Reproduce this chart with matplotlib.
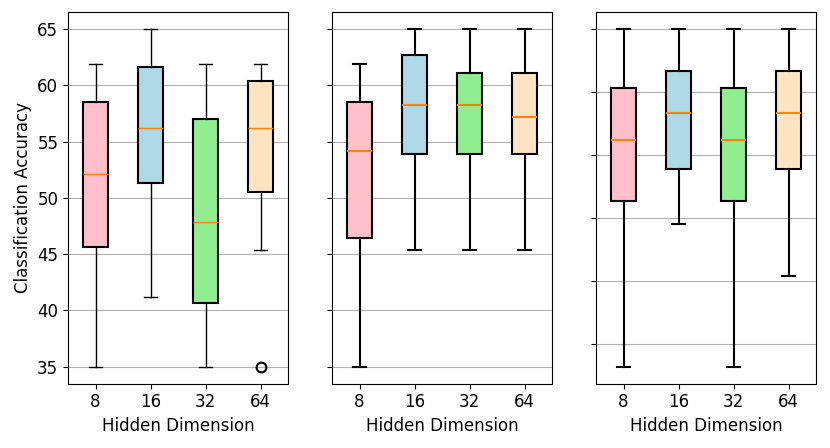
import matplotlib
matplotlib.use("Agg")
import matplotlib.pyplot as plt

# hidden dimensions on the x axis
hidden_dims = ['8', '16', '32', '64']
box_colors = ['pink', 'lightblue', 'lightgreen', 'bisque']

# box statistics, one list per panel
# panel 1
p1_whislo = [35.0, 41.2, 35.0, 45.4]
p1_q1 = [45.6, 51.3, 40.7, 50.5]
p1_med = [52.1, 56.2, 47.9, 56.2]
p1_q3 = [58.5, 61.6, 57.0, 60.35]
p1_whishi = [61.9, 65.0, 61.9, 61.9]
p1_fliers = [[], [], [], [35.0]]

# panel 2
p2_whislo = [35.0, 45.4, 45.4, 45.4]
p2_q1 = [46.4, 53.9, 53.9, 53.9]
p2_med = [54.15, 58.25, 58.25, 57.2]
p2_q3 = [58.5, 62.65, 61.1, 61.1]
p2_whishi = [61.9, 65.0, 65.0, 65.0]
p2_fliers = [[], [], [], []]

# panel 3 (own y scale, tick labels hidden)
p3_whislo = [38.2, 49.5, 38.2, 45.4]
p3_q1 = [51.35, 53.9, 51.35, 53.9]
p3_med = [56.2, 58.3, 56.2, 58.3]
p3_q3 = [60.35, 61.65, 60.35, 61.65]
p3_whishi = [65.0, 65.0, 65.0, 65.0]
p3_fliers = [[], [], [], []]


def make_stats(whislo, q1, med, q3, whishi, fliers):
    stats = []
    for i in range(len(med)):
        stats.append({'whislo': whislo[i], 'q1': q1[i], 'med': med[i],
                      'q3': q3[i], 'whishi': whishi[i], 'fliers': fliers[i]})
    return stats


def draw_panel(ax, stats, lw):
    bp = ax.bxp(stats, widths=0.45, patch_artist=True,
                boxprops=dict(linewidth=1.5),
                whiskerprops=dict(linewidth=lw),
                capprops=dict(linewidth=lw),
                medianprops=dict(color='#ff7f0e', linewidth=lw),
                flierprops=dict(marker='o', markerfacecolor='none',
                                markeredgecolor='black', markersize=7,
                                markeredgewidth=1.5))
    for patch, c in zip(bp['boxes'], box_colors):
        patch.set_facecolor(c)
    ax.set_xticks(range(1, len(hidden_dims) + 1))
    ax.set_xticklabels(hidden_dims)
    ax.set_xlabel('Hidden Dimension', fontsize=12)
    ax.tick_params(labelsize=12)
    ax.yaxis.grid(True, color='#b0b0b0')
    ax.set_axisbelow(True)


fig = plt.figure(figsize=(8.3, 4.48), dpi=100)
w = 220 / 830
h = 0.8297
b = 0.1435
ax1 = fig.add_axes([68 / 830, b, w, h])
ax2 = fig.add_axes([332 / 830, b, w, h], sharey=ax1)
ax3 = fig.add_axes([596 / 830, b, w, h])

draw_panel(ax1, make_stats(p1_whislo, p1_q1, p1_med, p1_q3, p1_whishi, p1_fliers), 1.0)
draw_panel(ax2, make_stats(p2_whislo, p2_q1, p2_med, p2_q3, p2_whishi, p2_fliers), 1.5)
draw_panel(ax3, make_stats(p3_whislo, p3_q1, p3_med, p3_q3, p3_whishi, p3_fliers), 1.5)

ax1.set_ylabel('Classification Accuracy', fontsize=12)
ax1.set_yticks([35, 40, 45, 50, 55, 60, 65])
ax1.set_ylim(33.5, 66.5)
ax2.tick_params(labelleft=False)
ax3.set_yticks([40, 45, 50, 55, 60, 65])
ax3.tick_params(labelleft=False)

plt.savefig('out.png', dpi=100)
